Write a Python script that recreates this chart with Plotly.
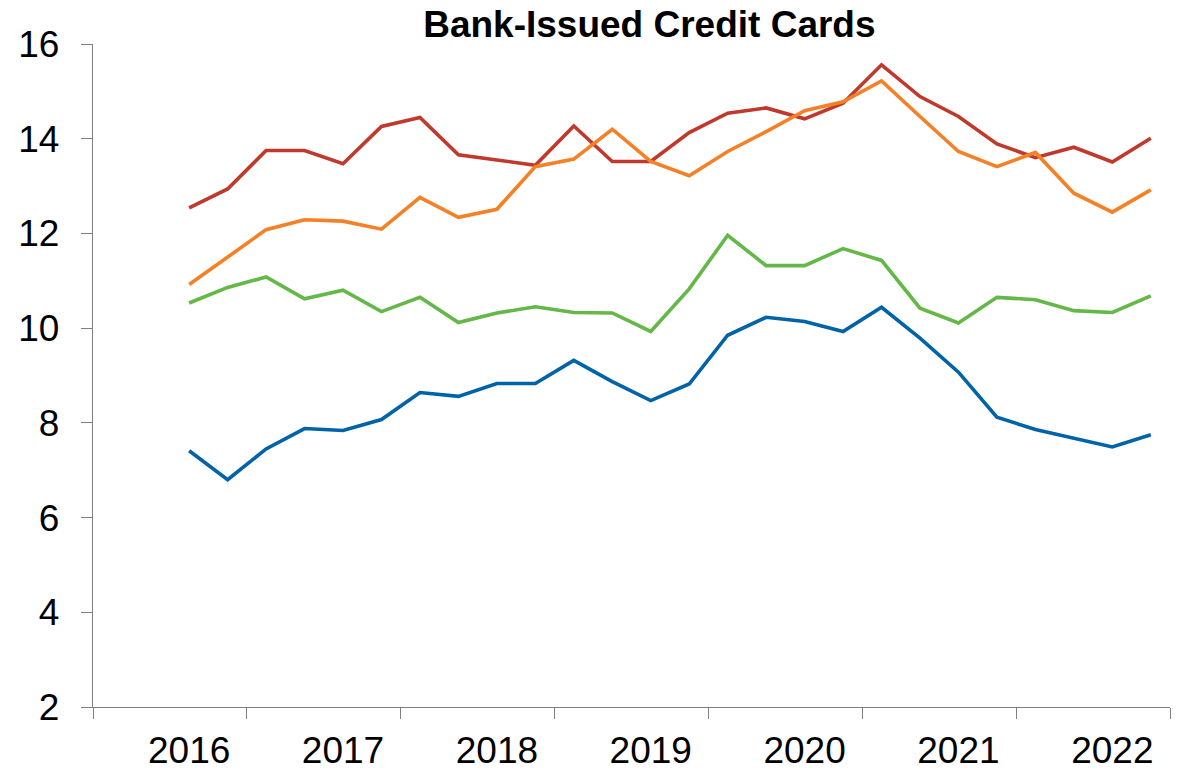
import plotly.graph_objects as go

# Quarterly observations, 2016 Q3 through 2022 Q4
years = [2016, 2016, 2017, 2017, 2017, 2017, 2018, 2018, 2018, 2018, 2019, 2019, 2019, 2019,
         2020, 2020, 2020, 2020, 2021, 2021, 2021, 2021, 2022, 2022, 2022, 2022]
quarters = [3, 4, 1, 2, 3, 4, 1, 2, 3, 4, 1, 2, 3, 4, 1, 2, 3, 4, 1, 2, 3, 4, 1, 2, 3, 4]

blue = [7.41, 6.80, 7.45, 7.88, 7.84, 8.07, 8.64, 8.56, 8.83, 8.83, 9.32, 8.87, 8.47,
        8.82, 9.85, 10.23, 10.14, 9.93, 10.44, 9.79, 9.07, 8.12, 7.86, 7.68, 7.49, 7.75]
green = [10.53, 10.86, 11.08, 10.62, 10.80, 10.35, 10.65, 10.12, 10.32, 10.45, 10.33, 10.32, 9.93,
         10.83, 11.96, 11.32, 11.32, 11.68, 11.43, 10.42, 10.11, 10.65, 10.60, 10.37, 10.33, 10.68]
orange = [10.92, 11.51, 12.08, 12.29, 12.26, 12.09, 12.76, 12.34, 12.51, 13.41, 13.57, 14.20, 13.52,
          13.22, 13.73, 14.15, 14.59, 14.78, 15.22, 14.47, 13.73, 13.41, 13.71, 12.85, 12.45, 12.92]
red = [12.54, 12.94, 13.75, 13.75, 13.47, 14.26, 14.45, 13.66, 13.55, 13.44, 14.27, 13.52, 13.52,
       14.13, 14.54, 14.65, 14.42, 14.75, 15.56, 14.89, 14.47, 13.89, 13.60, 13.82, 13.51, 14.01]

year_labels = ["2016", "2017", "2018", "2019", "2020", "2021", "2022"]
y_ticks = [2, 4, 6, 8, 10, 12, 14, 16]

x = [y + (q - 0.5) / 4 for y, q in zip(years, quarters)]
label_pos = [int(s) + 0.625 for s in year_labels]
boundaries = [int(s) for s in year_labels] + [int(year_labels[-1]) + 1]

series = [
    ("Series A", blue, "#0063A8"),
    ("Series B", green, "#64B847"),
    ("Series C", red, "#C0392C"),
    ("Series D", orange, "#F58025"),
]

fig = go.Figure()
for name, vals, col in series:
    fig.add_trace(go.Scatter(x=x, y=vals, mode="lines", name=name,
                             line=dict(color=col, width=3.6), showlegend=False))

axis_col = "#808080"
fig.update_layout(
    width=1185, height=771,
    margin=dict(l=93, r=15, t=44, b=64),
    paper_bgcolor="white", plot_bgcolor="white",
    font=dict(family="Liberation Sans, Arial, sans-serif", color="black", size=36),
    title=dict(text="<b>Bank-Issued Credit Cards</b>", x=0.548, xanchor="center",
               y=1 - 24 / 771, yanchor="middle", yref="container",
               font=dict(size=37, color="black")),
    xaxis=dict(range=[boundaries[0], boundaries[-1]], tickmode="array",
               tickvals=label_pos, ticktext=year_labels, ticks="",
               showline=True, linecolor=axis_col, linewidth=1.3,
               showgrid=False, zeroline=False, ticklabelstandoff=10,
               tickfont=dict(size=37), automargin=False,
               minor=dict(tickmode="array", tickvals=boundaries, ticks="outside",
                          ticklen=11, tickcolor=axis_col, tickwidth=1.3, showgrid=False)),
    yaxis=dict(range=[2, 16], tickmode="array", tickvals=y_ticks,
               ticks="outside", ticklen=11, tickcolor=axis_col, tickwidth=1.3,
               showline=True, linecolor=axis_col, linewidth=1.3,
               showgrid=False, zeroline=False, ticklabelstandoff=14,
               tickfont=dict(size=37), automargin=False),
)

fig.write_html("out.html")
